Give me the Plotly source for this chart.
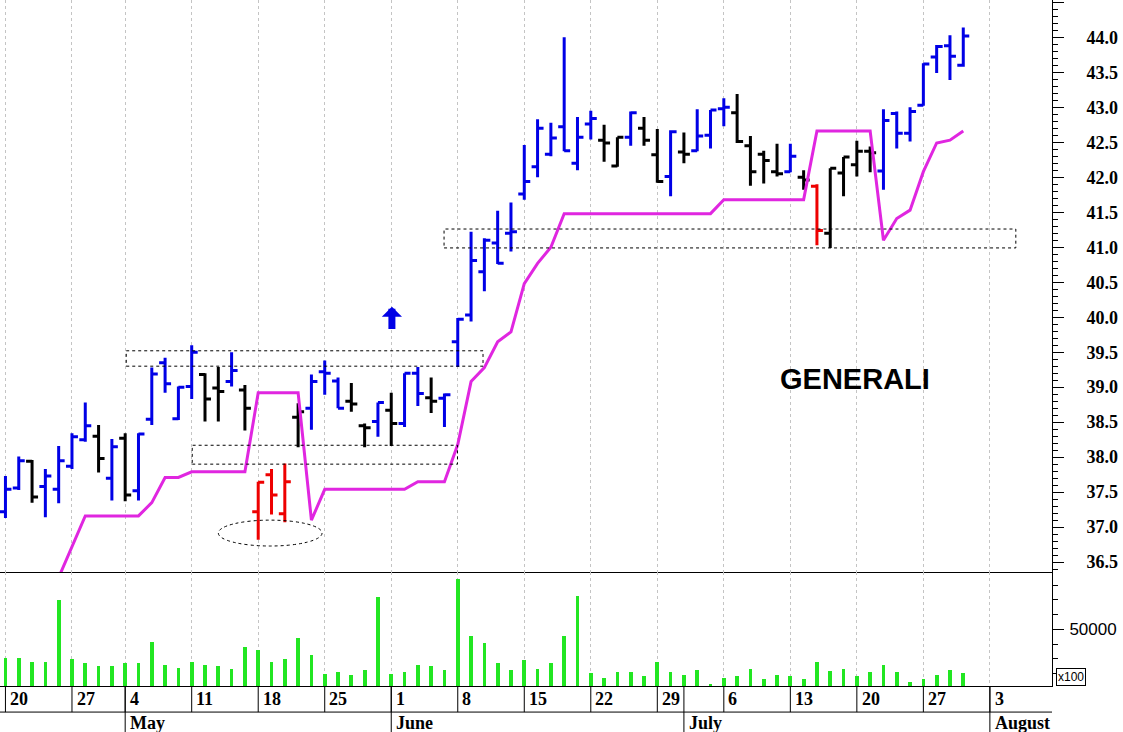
import plotly.graph_objects as go
from plotly.subplots import make_subplots

# Trading-day index: 0 = Monday 20 April, 72 = Thursday 30 July
# (1 May holiday skipped, so the Apr 27 week has 4 sessions)
opens = [37.22, 37.56, 37.94, 37.58, 37.54, 37.87, 38.25, 38.30, 37.70, 38.27,
         37.52, 38.54, 39.35, 38.55, 39.01, 39.18, 38.99, 39.08, 38.96, 37.22,
         37.75, 37.19, 38.57, 38.70, 39.22, 39.09, 38.80, 38.45, 38.51, 38.67,
         38.48, 39.20, 38.85, 38.84, 39.65, 40.03, 40.65, 41.06, 41.20, 41.76,
         42.15, 42.33, 42.72, 42.20, 42.76, 42.53, 42.16, 42.57, 42.70, 42.32,
         42.01, 42.36, 42.38, 42.60, 42.98, 42.92, 42.45, 42.33, 42.08, 42.08,
         42.00, 41.87, 41.20, 42.06, 42.18, 42.37, 42.09, 42.91, 42.63, 43.03,
         43.72, 43.88, 43.60]
highs = [37.73, 38.01, 37.96, 37.83, 38.16, 38.34, 38.78, 38.46, 38.26, 38.34,
         38.34, 39.28, 39.42, 39.01, 39.60, 39.20, 39.29, 39.50, 39.03, 37.65,
         37.83, 37.91, 38.77, 39.18, 39.38, 39.14, 39.06, 38.48, 38.78, 38.92,
         39.20, 39.29, 39.14, 38.91, 39.99, 41.22, 41.13, 41.52, 41.64, 42.46,
         42.83, 42.78, 44.00, 42.86, 42.95, 42.75, 42.57, 42.94, 42.86, 42.69,
         42.67, 42.64, 42.97, 42.96, 43.13, 43.19, 42.59, 42.38, 42.48, 42.48,
         42.10, 41.90, 42.13, 42.29, 42.52, 42.44, 42.97, 42.94, 43.00, 43.63,
         43.89, 44.03, 44.14]
lows = [37.13, 37.53, 37.35, 37.14, 37.34, 37.83, 38.22, 37.78, 37.38, 37.37,
        37.38, 38.46, 38.92, 38.53, 38.83, 38.51, 38.51, 39.01, 38.38, 36.82,
        37.18, 37.07, 38.14, 38.39, 38.89, 38.70, 38.65, 38.14, 38.29, 38.16,
        38.43, 38.73, 38.63, 38.43, 39.29, 39.94, 40.37, 40.76, 40.94, 41.68,
        42.00, 42.30, 42.37, 42.10, 42.54, 42.22, 42.15, 42.45, 42.45, 41.92,
        41.73, 42.20, 42.37, 42.41, 42.73, 42.49, 41.88, 41.91, 42.01, 42.07,
        41.82, 41.03, 40.99, 41.73, 42.01, 42.07, 41.82, 42.41, 42.51, 43.02,
        43.49, 43.39, 43.58]
closes = [37.54, 37.95, 37.43, 37.73, 37.95, 38.29, 38.45, 37.98, 38.15, 37.46,
          38.33, 39.19, 39.05, 39.00, 39.50, 38.83, 38.94, 39.24, 38.70, 37.64,
          37.46, 37.65, 38.65, 39.08, 39.20, 38.70, 38.76, 38.42, 38.78, 38.48,
          39.20, 38.91, 38.80, 38.89, 39.97, 40.81, 41.10, 40.77, 41.22, 41.94,
          42.70, 42.56, 42.38, 42.57, 42.84, 42.49, 42.57, 42.92, 42.53, 41.94,
          42.65, 42.33, 42.59, 42.96, 43.00, 42.51, 42.08, 42.24, 42.05, 42.30,
          41.96, 41.24, 42.13, 42.29, 42.37, 42.35, 42.81, 42.63, 42.94, 43.62,
          43.87, 43.73, 44.02]
# bar colour group per session: b = blue, k = black, r = red
bar_groups = ("bbkbbbbkbkb" "bbbbkkbkrrr" "kbbbkkbkbbk" "bbbbbbbbbbb"
              "bkkbkkbkbbb" "kkkkbkrkkkk" "bbbbbbb")

volumes = [30700, 30700, 28000, 28000, 69900, 30000, 26900, 25000, 25000, 26900,
           26900, 41600, 25900, 23900, 27800, 25700, 25000, 23000, 37700, 35700,
           28000, 30000, 44300, 32500, 19800, 21000, 18900, 22300, 71800, 19800,
           21000, 25500, 25000, 22300, 84200, 45400, 40700, 26900, 22300, 28900,
           23200, 26900, 45700, 72700, 20100, 17100, 21200, 21200, 18200, 28000,
           21200, 19100, 22300, 13200, 17100, 18200, 23200, 16400, 19100, 18200,
           16400, 28000, 22000, 23200, 18200, 21200, 25900, 21200, 14200, 16400,
           19100, 22300, 20100]

# trailing stop line, starting at session 4
stop_start = 4
stop_values = [36.28, 36.72, 37.16, 37.16, 37.16, 37.16, 37.16, 37.35, 37.71,
               37.71, 37.79, 37.79, 37.79, 37.79, 37.79, 38.92, 38.92, 38.92,
               38.92, 37.10, 37.54, 37.54, 37.54, 37.54, 37.54, 37.54, 37.54,
               37.65, 37.65, 37.65, 38.18, 39.08, 39.28, 39.65, 39.79, 40.48,
               40.77, 41.00, 41.48, 41.48, 41.48, 41.48, 41.48, 41.48, 41.48,
               41.48, 41.48, 41.48, 41.48, 41.48, 41.68, 41.68, 41.68, 41.68,
               41.68, 41.68, 41.68, 42.66, 42.66, 42.66, 42.66, 42.66, 41.10,
               41.41, 41.53, 42.08, 42.49, 42.53, 42.66]

# dotted boxes: (first session, last session, low price, high price)
boxes = [(9.08, 35.9, 39.30, 39.52),
         (14.04, 33.98, 37.90, 38.17),
         (32.97, 75.95, 40.99, 41.26)]
ellipse = (16.0, 23.8, 36.73, 37.10)

week_starts = [0, 5, 9, 14, 19, 24, 29, 34, 39, 44, 49, 54, 59, 64, 69, 74]
day_labels = ['20', '27', '4', '11', '18', '25', '1', '8', '15', '22', '29',
              '6', '13', '20', '27', '3']
month_starts = [9, 29, 51, 74]
month_labels = ['May', 'June', 'July', 'August']

price_ticks = [36.5, 37.0, 37.5, 38.0, 38.5, 39.0, 39.5, 40.0, 40.5, 41.0,
               41.5, 42.0, 42.5, 43.0, 43.5, 44.0, 44.5]

COLOURS = {'b': '#0000e6', 'k': '#000000', 'r': '#ee0000'}
SERIF_BOLD = dict(family='Liberation Serif', size=18, color='black',
                  weight='bold')


def add_price_bars(fig):
    """Add one OHLC trace per bar colour"""
    for key, colour in COLOURS.items():
        idx = [i for i, g in enumerate(bar_groups) if g == key]
        fig.add_trace(go.Ohlc(
            x=idx,
            open=[opens[i] for i in idx],
            high=[highs[i] for i in idx],
            low=[lows[i] for i in idx],
            close=[closes[i] for i in idx],
            increasing=dict(line=dict(color=colour, width=3)),
            decreasing=dict(line=dict(color=colour, width=3)),
            tickwidth=0.45,
            showlegend=False,
            hoverinfo='skip'
        ), row=1, col=1)


def add_decorations(fig):
    """Dotted boxes, ellipse, arrow, title and the date rows underneath"""
    for x0, x1, y0, y1 in boxes:
        fig.add_shape(type='rect', x0=x0, x1=x1, y0=y0, y1=y1,
                      xref='x', yref='y',
                      line=dict(color='black', width=1, dash='dot'))
    fig.add_shape(type='circle', x0=ellipse[0], x1=ellipse[1],
                  y0=ellipse[2], y1=ellipse[3], xref='x', yref='y',
                  line=dict(color='black', width=1, dash='dot'))

    # Blue up arrow over the early June consolidation
    fig.add_annotation(x=29.05, y=40.15, ax=29.05, ay=39.81,
                       xref='x', yref='y', axref='x', ayref='y',
                       text='', showarrow=True, arrowhead=1, arrowsize=0.48,
                       arrowwidth=7, arrowcolor='#0000e6')

    fig.add_annotation(x=63.85, y=39.12, xref='x', yref='y',
                       text='GENERALI', showarrow=False,
                       font=dict(family='Liberation Sans', size=29,
                                 color='black', weight='bold'))

    # Day row and month row below the volume panel
    row_line = -0.038
    bottom = -0.07
    fig.add_shape(type='line', xref='paper', yref='paper', x0=0, x1=1,
                  y0=row_line, y1=row_line, line=dict(color='black', width=1))
    for pos, label in zip(week_starts, day_labels):
        fig.add_shape(type='line', xref='x', yref='paper', x0=pos, x1=pos,
                      y0=0, y1=row_line, line=dict(color='black', width=1))
        fig.add_annotation(x=pos + 0.2, y=-0.019, xref='x', yref='paper',
                           text=label, showarrow=False, xanchor='left',
                           yanchor='middle', font=SERIF_BOLD)
    for pos, label in zip(month_starts, month_labels):
        fig.add_shape(type='line', xref='x', yref='paper', x0=pos, x1=pos,
                      y0=0, y1=bottom, line=dict(color='black', width=1))
        fig.add_annotation(x=pos + 0.2, y=-0.054, xref='x', yref='paper',
                           text=label, showarrow=False, xanchor='left',
                           yanchor='middle', font=SERIF_BOLD)

    # volume unit box
    fig.add_annotation(x=1.0035, y=0.0, xref='paper', yref='paper',
                       text='x100', showarrow=False, xanchor='left',
                       yanchor='bottom', bordercolor='black', borderwidth=1,
                       borderpad=1, bgcolor='white',
                       font=dict(family='Liberation Sans', size=12,
                                 color='black'))


def main():
    vol_share = 0.166
    fig = make_subplots(rows=2, cols=1, shared_xaxes=True,
                        vertical_spacing=0,
                        row_heights=[1 - vol_share, vol_share])

    add_price_bars(fig)

    stop_x = list(range(stop_start, stop_start + len(stop_values)))
    fig.add_trace(go.Scatter(
        x=stop_x, y=stop_values, mode='lines',
        line=dict(color='#e026e0', width=3),
        showlegend=False, hoverinfo='skip'
    ), row=1, col=1)

    fig.add_trace(go.Bar(
        x=list(range(len(volumes))), y=volumes, width=0.28,
        marker=dict(color='#22e622', line=dict(width=0)),
        showlegend=False, hoverinfo='skip'
    ), row=2, col=1)

    add_decorations(fig)

    xaxis_style = dict(
        range=[-0.41, 78.67], tickvals=week_starts, showticklabels=False,
        ticks='', showgrid=True, gridcolor='#c4c4c4', griddash='3px,3px',
        gridwidth=1, zeroline=False, showline=True, linecolor='black',
        linewidth=1, rangeslider=dict(visible=False)
    )
    fig.update_xaxes(**xaxis_style, row=1, col=1)
    fig.update_xaxes(**xaxis_style, row=2, col=1)

    fig.update_yaxes(
        range=[36.357, 44.533], side='right', tickvals=price_ticks,
        ticktext=[f'{v:.1f}' for v in price_ticks[:-1]] + [''],
        ticks='outside', ticklen=11, tickcolor='black',
        minor=dict(dtick=0.1, tick0=0, ticks='outside', ticklen=5,
                   tickcolor='black'),
        showgrid=False, zeroline=False, showline=True, linecolor='black',
        tickfont=SERIF_BOLD, ticklabelstandoff=19,
        row=1, col=1
    )
    fig.update_yaxes(
        range=[11630, 88780], side='right', tickvals=[50000],
        ticktext=['50000'], ticks='outside', ticklen=11, tickcolor='black',
        minor=dict(dtick=10000, tick0=0, ticks='outside', ticklen=5,
                   tickcolor='black'),
        showgrid=False, zeroline=False, showline=True, linecolor='black',
        tickfont=dict(family='Liberation Sans', size=17, color='black'),
        ticklabelstandoff=2,
        row=2, col=1
    )

    fig.update_layout(
        width=1123, height=732,
        margin=dict(l=0, r=71, t=0, b=46),
        paper_bgcolor='white', plot_bgcolor='white',
        bargap=0, showlegend=False
    )

    # drop the default page margin so the figure sits at the window corner
    fig.write_html("out.html",
                   config={'displayModeBar': False},
                   post_script="document.body.style.margin='0px';")


if __name__ == '__main__':
    main()
